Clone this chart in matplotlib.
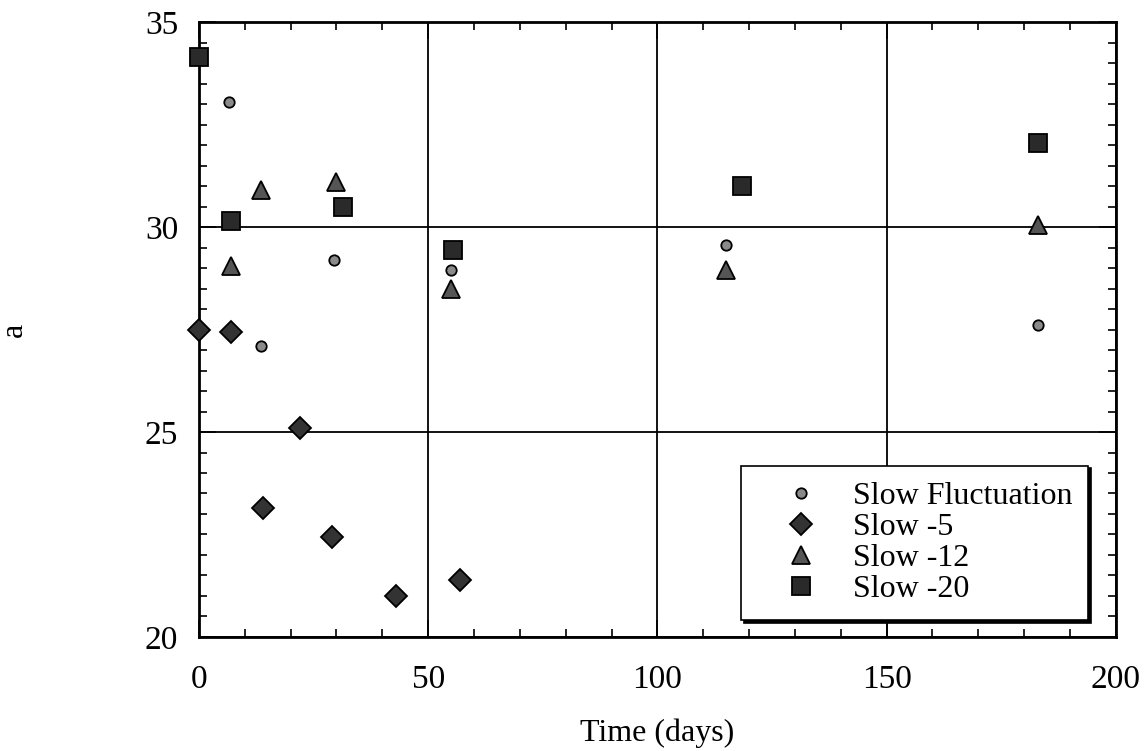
import matplotlib
matplotlib.use("Agg")
import matplotlib.pyplot as plt
from matplotlib.ticker import MultipleLocator

plt.rcParams['font.family'] = ['Liberation Serif', 'DejaVu Serif']

# dati (tempo in giorni, valore di a)
t_fluct = [6.5, 13.5, 29.5, 55, 115, 183]
a_fluct = [33.05, 27.1, 29.2, 28.95, 29.55, 27.6]

t_m5 = [0, 7, 14, 22, 29, 43, 57]
a_m5 = [27.5, 27.45, 23.15, 25.1, 22.45, 21.0, 21.4]

t_m12 = [7, 13.5, 30, 55, 115, 183]
a_m12 = [29.05, 30.9, 31.1, 28.5, 28.95, 30.05]

t_m20 = [0, 7, 31.5, 55.5, 118.5, 183]
a_m20 = [34.15, 30.15, 30.5, 29.45, 31.0, 32.05]

fig = plt.figure(figsize=(11.48, 7.51), dpi=100)
ax = fig.add_axes([0.1733, 0.1518, 0.7987, 0.8189])

ax.plot(t_fluct, a_fluct, linestyle='none', marker='o', markersize=7.5,
        markerfacecolor='#8a8a8a', markeredgecolor='black', markeredgewidth=1.3,
        label='Slow Fluctuation', zorder=3, clip_on=False)
ax.plot(t_m5, a_m5, linestyle='none', marker='D', markersize=11,
        markerfacecolor='#333333', markeredgecolor='black', markeredgewidth=1.3,
        label='Slow -5', zorder=3, clip_on=False)
ax.plot(t_m12, a_m12, linestyle='none', marker='^', markersize=13,
        markerfacecolor='#555555', markeredgecolor='black', markeredgewidth=1.3,
        label='Slow -12', zorder=3, clip_on=False)
ax.plot(t_m20, a_m20, linestyle='none', marker='s', markersize=13,
        markerfacecolor='#2a2a2a', markeredgecolor='black', markeredgewidth=1.3,
        label='Slow -20', zorder=3, clip_on=False)

ax.set_xlim(0, 200)
ax.set_ylim(20, 35)

ax.xaxis.set_major_locator(MultipleLocator(50))
ax.xaxis.set_minor_locator(MultipleLocator(10))
ax.yaxis.set_major_locator(MultipleLocator(5))
ax.yaxis.set_minor_locator(MultipleLocator(0.5))

ax.grid(True, which='major', color='black', linewidth=1.3)

ax.tick_params(which='both', direction='in', top=True, right=True,
               colors='black', labelsize=24, width=1.2)
ax.tick_params(which='major', length=12)
ax.tick_params(which='minor', length=6)
ax.tick_params(axis='x', which='major', pad=20)
ax.tick_params(axis='y', which='major', pad=15)

for s in ax.spines.values():
    s.set_linewidth(2)
    s.set_color('black')

ax.set_xlabel('Time (days)', fontsize=23)
ax.xaxis.set_label_coords(0.5, -0.132)
ax.set_ylabel('a', fontsize=23)
ax.yaxis.set_label_coords(-0.185, 0.5)

# legenda con ombra nera
leg = ax.legend(loc='lower right', bbox_to_anchor=(0.970, 0.028),
                fontsize=23, frameon=True, fancybox=False,
                shadow={'color': 'black', 'alpha': 1},
                handletextpad=0.25, borderpad=0.5, labelspacing=0.05,
                handlelength=2.75, borderaxespad=0)
leg.get_frame().set_edgecolor('black')
leg.get_frame().set_linewidth(1.2)
leg.get_frame().set_alpha(1)

fig.savefig('out.png', dpi=100)
